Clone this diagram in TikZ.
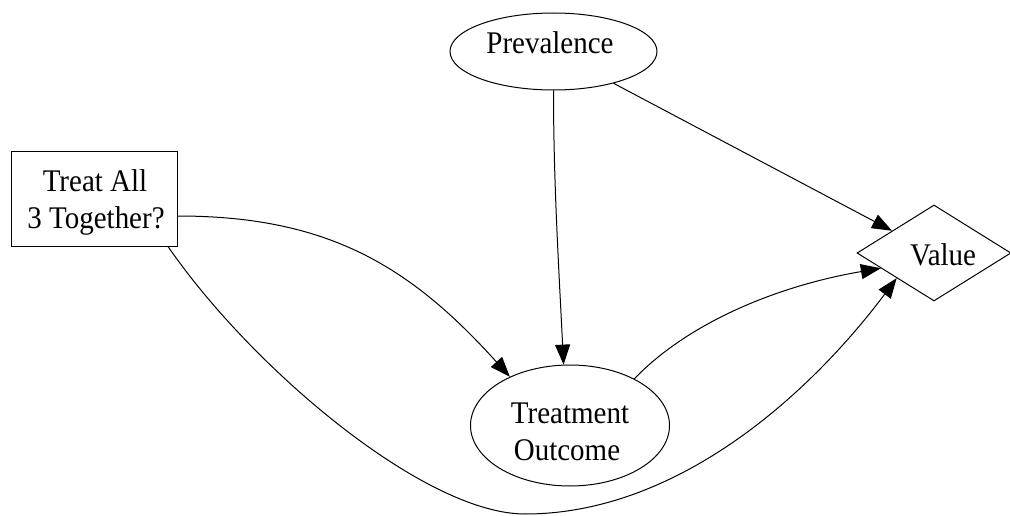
\documentclass[tikz,border=0pt]{standalone}
\usepackage{fontspec}
\setmainfont{Liberation Serif}[FakeStretch=0.92]
\usetikzlibrary{shapes.geometric,arrows.meta}

\tikzset{
  shapebox/.style={draw, line width=1pt, inner sep=0pt},
  chance/.style={shapebox, ellipse},
  decision/.style={shapebox, rectangle},
  valuenode/.style={shapebox, diamond, aspect=1.6},
  txt/.style={font=\fontsize{31.5pt}{36pt}\selectfont, inner sep=0pt, anchor=base},
  link/.style={line width=1pt, -{Triangle[length=20pt,width=15pt]}},
}

\begin{document}
\begin{tikzpicture}[x=1pt, y=-1pt]
  \useasboundingbox (0,0) rectangle (1010,516);

  % node outlines
  \node[chance, minimum width=207pt, minimum height=77pt] (prev) at (553.5,51.5) {};
  \node[decision, minimum width=166pt, minimum height=94pt] (treat) at (94,199) {};
  \node[chance, minimum width=199pt, minimum height=121pt] (outcome) at (570,425.5) {};
  \node[valuenode, minimum width=154pt, minimum height=96pt] (value) at (934,253) {};
  \coordinate (dip) at (525,514);

  % node labels, set on their baselines
  \node[txt] (prevtext) at (550,54) {Prevalence};
  \node[txt] (treattext1) at (95,192) {Treat All};
  \node[txt] (treattext2) at (96,228) {3 Together?};
  \node[txt] (outtext1) at (570,423) {Treatment};
  \node[txt] (outtext2) at (567,460) {Outcome};
  \node[txt] (valuetext) at (943,265) {Value};

  % influence arcs
  \draw[link] (prev.south) .. controls +(0,90) and +(-5,-100) .. (outcome.96);
  \draw[link] (prev) -- (value);
  \draw[link] ([yshift=-17pt]treat.east) .. controls +(150,0) and +(-100,-111) .. (outcome.141);
  \draw[link] ([xshift=74pt]treat.south) .. controls +(85,123) and +(-100,0) .. (dip)
              .. controls +(150,0) and +(-90,120) .. (value.214);
  \draw[link] (outcome.36) .. controls +(56,-58) and +(-100,17) .. (value.196);
\end{tikzpicture}
\end{document}
